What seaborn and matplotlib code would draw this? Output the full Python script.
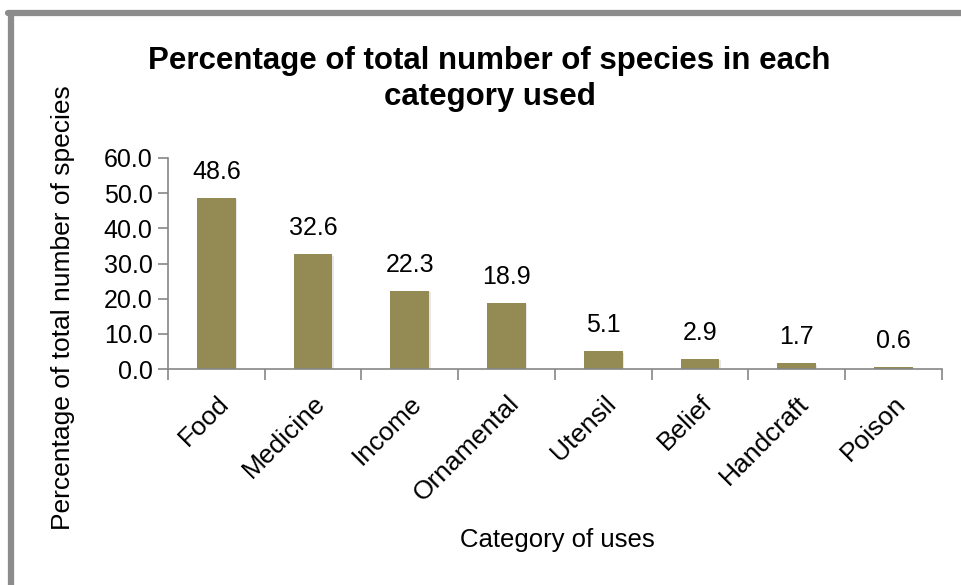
import numpy as np
import pandas as pd
import seaborn as sns
import matplotlib.pyplot as plt
from matplotlib.lines import Line2D
import matplotlib.patheffects as pe

# data
categories = ['Food', 'Medicine', 'Income', 'Ornamental', 'Utensil',
              'Belief', 'Handcraft', 'Poison']
percentages = [48.6, 32.6, 22.3, 18.9, 5.1, 2.9, 1.7, 0.6]
y_ticks = [0, 10, 20, 30, 40, 50, 60]

sns.set_theme(style='white')
plt.rcParams['font.family'] = ['Liberation Sans', 'DejaVu Sans']
plt.rcParams['text.color'] = 'black'
plt.rcParams['axes.labelcolor'] = 'black'
plt.rcParams['xtick.labelcolor'] = 'black'
plt.rcParams['ytick.labelcolor'] = 'black'

df = pd.DataFrame({'Category': categories, 'Percent': percentages})

fig = plt.figure(figsize=(9.62, 5.85), dpi=100)
ax = fig.add_axes([0.1746, 0.369, 0.8044, 0.361])

bar_color = '#948A54'
axis_gray = '#868686'

sns.barplot(data=df, x='Category', y='Percent', color=bar_color,
            width=0.4, ax=ax, saturation=1, edgecolor='none')

# soft drop shadow like the Excel original
for patch in ax.patches:
    patch.set_path_effects([pe.SimplePatchShadow(offset=(1, -1),
                                                 shadow_rgbFace='#b0b0b0',
                                                 alpha=0.3),
                            pe.Normal()])

ax.set_ylim(0, 60)
ax.set_xlim(-0.5, len(categories) - 0.5)
ax.set_yticks(y_ticks)
ax.set_yticklabels([f"{v:.1f}" for v in y_ticks], fontsize=18)

# category labels at centers, tick marks at boundaries
ax.set_xticks(np.arange(len(categories)))
ax.set_xticklabels(categories, fontsize=19, rotation=45, ha='right',
                   rotation_mode='anchor')
ax.set_xticks(np.arange(len(categories) + 1) - 0.5, minor=True)
ax.tick_params(axis='x', which='major', length=0, pad=16)
ax.tick_params(axis='x', which='minor', length=8, width=1.2, color=axis_gray,
               direction='out', bottom=True)
ax.tick_params(axis='y', length=7, width=1.2, color=axis_gray,
               direction='out', left=True, pad=4)

for side in ['top', 'right']:
    ax.spines[side].set_visible(False)
for side in ['left', 'bottom']:
    ax.spines[side].set_color(axis_gray)
    ax.spines[side].set_linewidth(1.2)

# value labels above bars
for i, v in enumerate(percentages):
    ax.text(i, v + 4, f"{v:.1f}", ha='center', va='bottom', fontsize=18)

ax.set_xlabel('Category of uses', fontsize=18.5)
ax.set_ylabel('Percentage of total number of species', fontsize=19)
ax.xaxis.set_label_coords(0.503, -0.75)
ax.yaxis.set_label_coords(-0.12, 0.29)

fig.text(0.509, 0.865, 'Percentage of total number of species in each\ncategory used',
         ha='center', va='center', fontsize=22.5, fontweight='bold',
         linespacing=1.25)

# gray frame on the top and left edges
fig.add_artist(Line2D([0.0112, 0.0112], [0, 0.977], color='#8c8c8c',
                      lw=4.5, transform=fig.transFigure))
fig.add_artist(Line2D([0.0088, 1.0], [0.977, 0.977], color='#8c8c8c',
                      lw=4.5, transform=fig.transFigure))

fig.savefig('out.png', dpi=100)
